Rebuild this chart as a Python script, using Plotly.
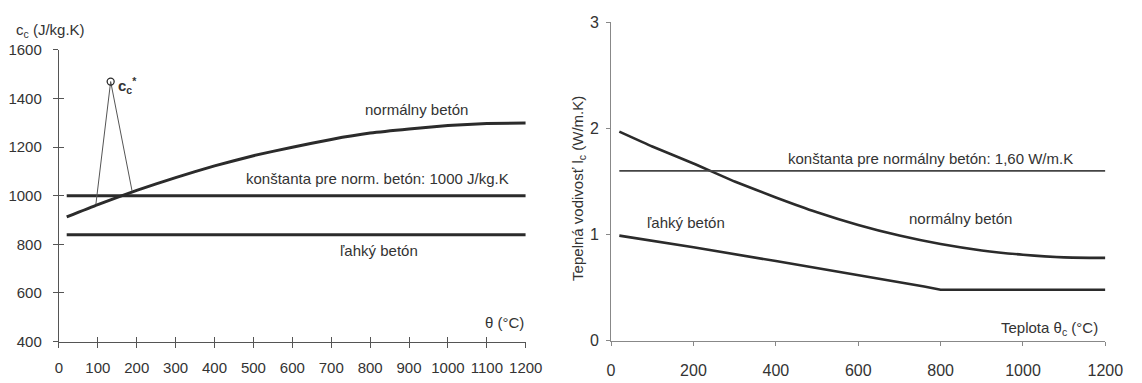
import plotly.graph_objects as go

W, H = 1142, 383
FONT = "Liberation Sans, Arial, sans-serif"
INK = "#2b2b2b"
TXT = "#333333"

# ---- specific heat c_c (J/kg.K) vs temperature ----
theta_cc = [20, 100, 200, 300, 400, 500, 600, 700, 800, 900, 1000, 1100, 1200]
cc_normal = [913, 964, 1022, 1075, 1123, 1165, 1200, 1232, 1258, 1275, 1289, 1297, 1300]
theta_const = [20, 1200]
cc_const_normal = [1000, 1000]
cc_light = [840, 840]
# moisture peak c_c*
theta_peak = [95, 133, 188]
cc_peak = [965, 1470, 1020]

# ---- thermal conductivity l_c (W/m.K) vs temperature ----
theta_lc = [20, 100, 200, 300, 400, 500, 600, 700, 800, 900, 1000, 1100, 1200]
lc_normal = [1.97, 1.83, 1.67, 1.50, 1.35, 1.21, 1.09, 0.99, 0.91, 0.85, 0.81, 0.785, 0.78]
lc_const_normal = [1.60, 1.60]
theta_light = [20, 200, 400, 600, 760, 800, 1000, 1200]
lc_light = [0.99, 0.88, 0.75, 0.62, 0.51, 0.48, 0.48, 0.48]

left_xticks = list(range(0, 1201, 100))
left_yticks = [400, 600, 800, 1000, 1200, 1400, 1600]
right_xticks = [0, 200, 400, 600, 800, 1000, 1200]
right_yticks = [0, 1, 2, 3]

fig = go.Figure()

def line(x, y, xa, ya, width, color=INK):
    fig.add_trace(go.Scatter(x=x, y=y, mode="lines", xaxis=xa, yaxis=ya,
                             line=dict(color=color, width=width, shape="spline", smoothing=0.4),
                             hoverinfo="skip", showlegend=False))

# left panel
line(theta_cc, cc_normal, "x", "y", 3)
line(theta_const, cc_const_normal, "x", "y", 3)
line(theta_const, cc_light, "x", "y", 3)
fig.add_trace(go.Scatter(x=theta_peak, y=cc_peak, mode="lines", xaxis="x", yaxis="y",
                         line=dict(color="#555555", width=1),
                         hoverinfo="skip", showlegend=False))
fig.add_trace(go.Scatter(x=[theta_peak[1]], y=[cc_peak[1]], mode="markers",
                         xaxis="x", yaxis="y", hoverinfo="skip", showlegend=False,
                         marker=dict(symbol="circle-open", size=7, color=INK,
                                     line=dict(width=1.3, color=INK))))
# overlay axes give the crossing tick marks on the left panel
fig.add_trace(go.Scatter(x=[], y=[], xaxis="x3", yaxis="y3", showlegend=False))

# right panel
line(theta_lc, lc_normal, "x2", "y2", 2.6)
line(theta_const, lc_const_normal, "x2", "y2", 1.6, "#444444")
fig.add_trace(go.Scatter(x=theta_light, y=lc_light, mode="lines", xaxis="x2", yaxis="y2",
                         line=dict(color=INK, width=2.6),
                         hoverinfo="skip", showlegend=False))

def px_x(a, b):
    return [a / W, b / W]

def px_y(top, bottom):
    return [(H - bottom) / H, (H - top) / H]

def tf(size):
    return dict(family=FONT, size=size, color=TXT)

common = dict(showgrid=False, zeroline=False, showline=True)

fig.update_layout(
    width=W, height=H, margin=dict(l=0, r=0, t=0, b=0),
    paper_bgcolor="white", plot_bgcolor="rgba(0,0,0,0)",
    font=dict(family=FONT, size=15, color=TXT),
    xaxis=dict(domain=px_x(56, 532), range=[0, 1200], anchor="y",
               tickvals=left_xticks, ticks="outside", ticklen=5, tickcolor="#555",
               linecolor="#555", linewidth=1.3, tickfont=tf(15),
               ticklabelstandoff=7, **common),
    yaxis=dict(domain=px_y(43, 349), range=[400, 1600], anchor="x",
               tickvals=left_yticks, ticks="outside", ticklen=5, tickcolor="#555",
               linecolor="#555", linewidth=1.3, tickfont=tf(15),
               ticklabelstandoff=8, **common),
    xaxis3=dict(domain=px_x(56, 532), range=[0, 1200], anchor="y3", overlaying="x",
                tickvals=left_xticks, ticks="inside", ticklen=5, tickcolor="#555",
                showticklabels=False, showline=False, showgrid=False, zeroline=False),
    yaxis3=dict(domain=px_y(43, 349), range=[400, 1600], anchor="x3", overlaying="y",
                tickvals=left_yticks, ticks="inside", ticklen=5, tickcolor="#555",
                showticklabels=False, showline=False, showgrid=False, zeroline=False),
    xaxis2=dict(domain=px_x(619, 1123), range=[0, 1200], anchor="y2",
                tickvals=right_xticks, ticks="outside", ticklen=4, tickcolor="#888",
                linecolor="#888", linewidth=1, tickfont=tf(16),
                ticklabelstandoff=11, **common),
    yaxis2=dict(domain=px_y(14, 348), range=[0, 3], anchor="x2",
                tickvals=right_yticks, ticks="outside", ticklen=4, tickcolor="#888",
                linecolor="#888", linewidth=1, tickfont=tf(16),
                ticklabelstandoff=4, **common),
)

def note(text, x, y, xref, yref, xanchor="center", angle=0, bold=False):
    fig.add_annotation(text=f"<b>{text}</b>" if bold else text, x=x, y=y,
                       xref=xref, yref=yref, xanchor=xanchor, yanchor="middle",
                       showarrow=False, textangle=angle,
                       font=dict(family=FONT, size=15, color=TXT))

# left panel labels
note("c<sub>c</sub> (J/kg.K)", 10 / W, (H - 23) / H, "paper", "paper", xanchor="left")
note("c<sub>c</sub><sup>*</sup>", 147, 1455, "x", "y", xanchor="left", bold=True)
note("normálny betón", 918, 1357, "x", "y")
note("konštanta pre norm. betón: 1000 J/kg.K", 819, 1071, "x", "y")
note("ľahký betón", 822, 776, "x", "y")
note("θ (°C)", 1200, 478, "x", "y", xanchor="right")

# right panel labels
note("Tepelná vodivosť l<sub>c</sub> (W/m.K)", 585 / W, (H - 188) / H, "paper", "paper", angle=-90)
note("ľahký betón", 181, 1.114, "x2", "y2")
note("konštanta pre normálny betón: 1,60 W/m.K", 776, 1.716, "x2", "y2")
note("normálny betón", 848, 1.15, "x2", "y2")
note("Teplota θ<sub>c</sub> (°C)", 1188, 0.117, "x2", "y2", xanchor="right")

fig.write_html("out.html")
